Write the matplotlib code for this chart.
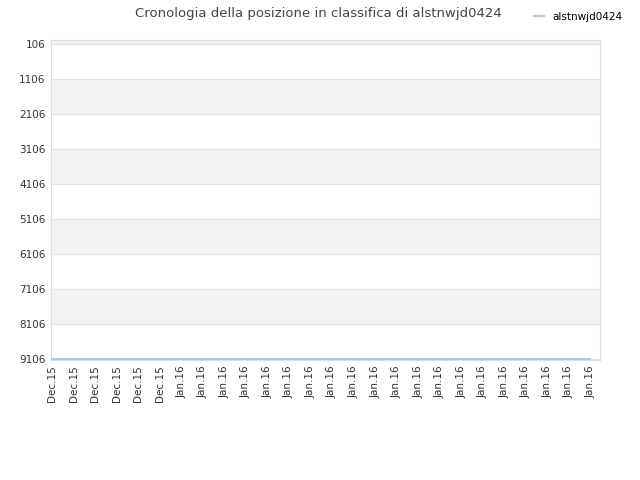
import matplotlib.pyplot as plt
import numpy as np

dates = ["Dec.15"] * 6 + ["Jan.16"] * 20
ranks = [9106] * 26
yticks = [106, 1106, 2106, 3106, 4106, 5106, 6106, 7106, 8106, 9106]

fig = plt.figure(figsize=(6.4, 4.8), dpi=100)
ax = fig.add_axes([0.0797, 0.25, 0.858, 0.667])

x = np.arange(len(dates))

# alternating bands
ax.axhspan(0, 106, color="#f3f3f3", zorder=0)
for i in range(len(yticks) - 1):
    if i % 2 == 1:
        ax.axhspan(yticks[i], yticks[i + 1], color="#f3f3f3", zorder=0)
for t in yticks:
    ax.axhline(t, color="#e2e2e2", lw=0.8, zorder=1)

ax.plot(x, ranks, color="#a6cbef", lw=1.5, label="alstnwjd0424", zorder=3)

ax.set_ylim(9135, 0)
ax.set_xlim(-0.05, 25.45)
ax.set_yticks(yticks)
ax.set_yticklabels([str(t) for t in yticks], fontsize=7.5, color="#333333")
ax.set_xticks(x)
ax.set_xticklabels(dates, rotation=90, fontsize=7.5, color="#333333")
ax.tick_params(length=0, pad=4)

for s in ax.spines.values():
    s.set_color("#dddddd")
    s.set_linewidth(0.8)

fig.suptitle("Cronologia della posizione in classifica di alstnwjd0424",
             x=0.497, y=0.985, fontsize=9.5, color="#444444")
fig.legend(loc="upper right", bbox_to_anchor=(0.988, 0.995), frameon=False,
           fontsize=7.5, handlelength=1.0, handletextpad=0.8)

fig.savefig("out.png", dpi=100)
